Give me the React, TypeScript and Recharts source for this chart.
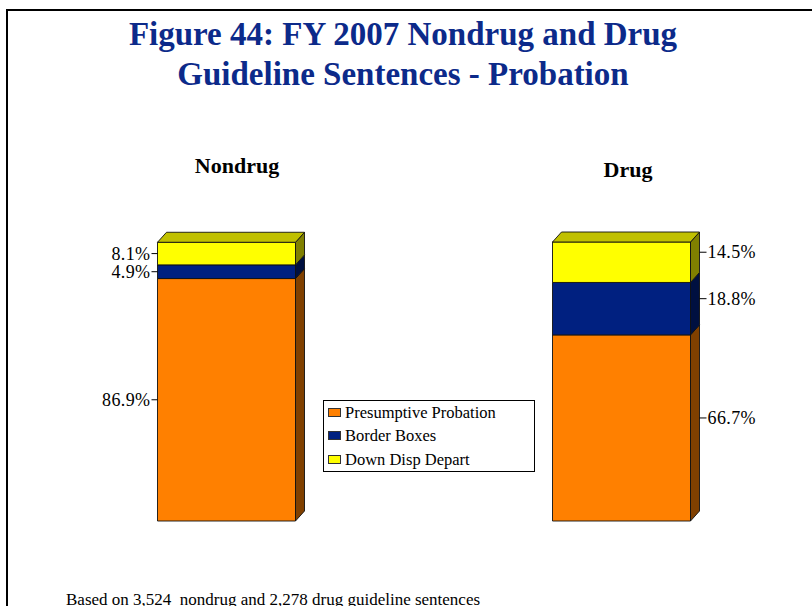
import React from 'react';
import { BarChart, Bar, XAxis, YAxis, Legend, LabelList } from 'recharts';

// shares of probation sentences, in percent
const categories = ['Nondrug', 'Drug'];
const presumptiveProbation = [86.9, 66.7];
const borderBoxes = [4.9, 18.8];
const downDispDepart = [8.1, 14.5];
const seriesNames = ['Presumptive Probation', 'Border Boxes', 'Down Disp Depart'];

const data = categories.map((name, i) => ({
  name,
  presumptive: presumptiveProbation[i],
  border: borderBoxes[i],
  down: downDispDepart[i],
}));

const serif = "'Liberation Serif', 'Times New Roman', Times, serif";
const DX = 9;
const DY = 10;

// category titles sit a little off the bar centres in the original
const titleShift = [
  { dx: 11, dy: -69 },
  { dx: 7, dy: -65 },
];

const Box3D = (p: any, side: string, top: string | null) => {
  const { x, y, width: w, height: h, fill } = p;
  if (!w || !h) return <g />;
  return (
    <g stroke="#111" strokeWidth={0.9} strokeLinejoin="round">
      <rect x={x} y={y} width={w} height={h} fill={fill} />
      <polygon
        points={`${x + w},${y} ${x + w + DX},${y - DY} ${x + w + DX},${y + h - DY} ${x + w},${y + h}`}
        fill={side}
      />
      {top && (
        <polygon
          points={`${x},${y} ${x + DX},${y - DY} ${x + w + DX},${y - DY} ${x + w},${y}`}
          fill={top}
        />
      )}
    </g>
  );
};

const renderValue = (props: any) => {
  const vb = props.viewBox || props;
  const { x, y, width: w, height: h } = vb;
  const txt = `${Number(props.value).toFixed(1)}%`;
  const textStyle = { fontFamily: serif, fontSize: 18, letterSpacing: 0.4, fill: '#000' };
  if (props.index === 0) {
    const cy = y + h / 2;
    return (
      <g>
        <line x1={x - 6} x2={x} y1={cy} y2={cy} stroke="#000" strokeWidth={1} />
        <text x={x - 7} y={cy} textAnchor="end" dominantBaseline="central" style={textStyle}>
          {txt}
        </text>
      </g>
    );
  }
  const cy = y + h / 2 - DY;
  const lx = x + w + DX;
  return (
    <g>
      <line x1={lx} x2={lx + 7} y1={cy} y2={cy} stroke="#000" strokeWidth={1} />
      <text x={lx + 8} y={cy} textAnchor="start" dominantBaseline="central" style={textStyle}>
        {txt}
      </text>
    </g>
  );
};

const CategoryTick = ({ x, y, payload, index }: any) => {
  const s = titleShift[index] || { dx: 0, dy: -67 };
  return (
    <text
      x={x + s.dx}
      y={y + s.dy}
      textAnchor="middle"
      style={{ fontFamily: serif, fontSize: 22, fontWeight: 'bold', fill: '#000' }}
    >
      {payload.value}
    </text>
  );
};

const LegendBox = ({ payload }: any) => {
  const items = [...(payload || [])].sort(
    (a: any, b: any) => seriesNames.indexOf(a.value) - seriesNames.indexOf(b.value)
  );
  return (
    <div
      style={{
        boxSizing: 'border-box',
        width: 212,
        height: 72,
        border: '1px solid #000',
        background: '#fff',
        fontFamily: serif,
        fontSize: 16.5,
        color: '#000',
      }}
    >
      {items.map((item: any) => (
        <div key={item.value} style={{ position: 'relative', height: 23.3, lineHeight: '24px' }}>
          <span
            style={{
              position: 'absolute',
              left: 4,
              top: 7,
              width: 11,
              height: 7,
              background: item.color,
              border: '1px solid #333',
            }}
          />
          <span style={{ position: 'absolute', left: 21, top: 0, whiteSpace: 'nowrap' }}>{item.value}</span>
        </div>
      ))}
    </div>
  );
};

export default function App() {
  return (
    <div
      style={{
        position: 'absolute',
        left: 0,
        top: 0,
        width: 812,
        height: 606,
        overflow: 'hidden',
        background: '#fff',
      }}
    >
      <div
        style={{
          position: 'absolute',
          left: 6,
          top: 9,
          width: 900,
          height: 700,
          borderTop: '2px solid #000',
          borderLeft: '2px solid #000',
        }}
      />
      <div
        style={{
          position: 'absolute',
          left: -3,
          top: 14,
          width: 812,
          textAlign: 'center',
          fontFamily: serif,
          fontWeight: 'bold',
          fontSize: 33,
          lineHeight: '40px',
          color: '#0C2A8A',
        }}
      >
        <div>Figure 44: FY 2007 Nondrug and Drug</div>
        <div>Guideline Sentences - Probation</div>
      </div>
      <div style={{ position: 'absolute', left: 0, top: 0 }}>
        <BarChart
          width={812}
          height={606}
          data={data}
          barSize={138}
          margin={{ top: 162, right: -6.5, bottom: 85, left: 28.5 }}
        >
          <XAxis
            dataKey="name"
            orientation="top"
            height={80}
            axisLine={false}
            tickLine={false}
            tickSize={0}
            tickMargin={0}
            interval={0}
            tick={<CategoryTick />}
          />
          <YAxis hide domain={[0, 100]} />
          <Legend
            layout="vertical"
            align="center"
            verticalAlign="middle"
            content={<LegendBox />}
            wrapperStyle={{ left: 323, top: 400, width: 212, height: 72 }}
          />
          <Bar
            dataKey="presumptive"
            name={seriesNames[0]}
            stackId="a"
            fill="#FF8000"
            isAnimationActive={false}
            shape={(p: any) => Box3D(p, '#804000', null)}
          >
            <LabelList dataKey="presumptive" content={renderValue} />
          </Bar>
          <Bar
            dataKey="border"
            name={seriesNames[1]}
            stackId="a"
            fill="#002080"
            isAnimationActive={false}
            shape={(p: any) => Box3D(p, '#001040', null)}
          >
            <LabelList dataKey="border" content={renderValue} />
          </Bar>
          <Bar
            dataKey="down"
            name={seriesNames[2]}
            stackId="a"
            fill="#FFFF00"
            isAnimationActive={false}
            shape={(p: any) => Box3D(p, '#808000', '#C0C000')}
          >
            <LabelList dataKey="down" content={renderValue} />
          </Bar>
        </BarChart>
      </div>
      <div
        style={{
          position: 'absolute',
          left: 66,
          top: 590,
          fontFamily: serif,
          fontSize: 17,
          lineHeight: '20px',
          whiteSpace: 'pre',
          color: '#000',
        }}
      >
        Based on 3,524  nondrug and 2,278 drug guideline sentences
      </div>
    </div>
  );
}
